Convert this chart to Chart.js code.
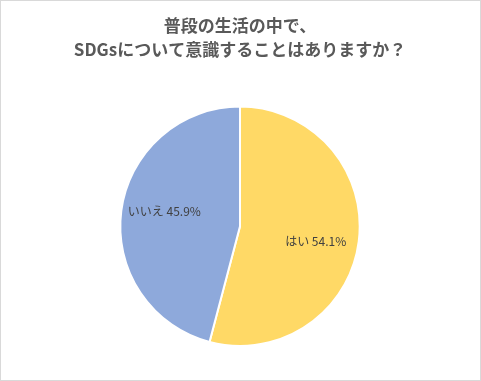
<!DOCTYPE html>
<html>
<head>
<meta charset="utf-8">
<script src="https://cdn.jsdelivr.net/npm/chart.js@4"></script>
<style>
  body { margin: 0; background: #fff; }
  #wrap { position: absolute; left: 0; top: 0; width: 479px; height: 379px; border: 1px solid #D9D9D9; }
</style>
</head>
<body>
<div id="wrap"><canvas id="pieChart" width="479" height="379"></canvas></div>
<script>
const titleLines = ['普段の生活の中で、', 'SDGsについて意識することはありますか？'];
const categories = ['はい', 'いいえ'];
const percentages = [54.1, 45.9];
const sliceColors = ['#FFD966', '#8EA9DB'];

// draw "category value%" inside each slice
const sliceLabels = {
    id: 'sliceLabels',
    afterDatasetsDraw(chart) {
        const ctx = chart.ctx;
        const meta = chart.getDatasetMeta(0);
        ctx.save();
        ctx.font = '12px "Noto Sans CJK JP", sans-serif';
        ctx.fillStyle = '#404040';
        ctx.textAlign = 'center';
        ctx.textBaseline = 'middle';
        meta.data.forEach((arc, i) => {
            const p = arc.getProps(['x', 'y', 'startAngle', 'endAngle', 'outerRadius']);
            const mid = (p.startAngle + p.endAngle) / 2 + 0.07;
            const r = p.outerRadius * 0.645;
            const x = p.x + Math.cos(mid) * r;
            const y = p.y + Math.sin(mid) * r;
            ctx.fillText(categories[i] + ' ' + percentages[i].toFixed(1) + '%', x, y);
        });
        ctx.restore();
    }
};

function generatePieChart() {
    const ctx = document.getElementById('pieChart').getContext('2d');
    new Chart(ctx, {
        type: 'pie',
        data: {
            labels: categories,
            datasets: [{
                data: percentages,
                backgroundColor: sliceColors,
                borderColor: '#FFFFFF',
                borderWidth: 2
            }]
        },
        options: {
            responsive: false,
            animation: false,
            layout: {
                padding: { top: 0, bottom: 33, left: 0, right: 1 }
            },
            plugins: {
                legend: { display: false },
                tooltip: { enabled: false },
                title: {
                    display: true,
                    text: titleLines,
                    color: '#595959',
                    font: { family: '"Noto Sans CJK JP", sans-serif', size: 17, weight: 'bold', lineHeight: 1.4 },
                    padding: { top: 13, bottom: 44 }
                }
            }
        },
        plugins: [sliceLabels]
    });
}

document.addEventListener("DOMContentLoaded", () => {
    generatePieChart();
});
</script>
</body>
</html>
